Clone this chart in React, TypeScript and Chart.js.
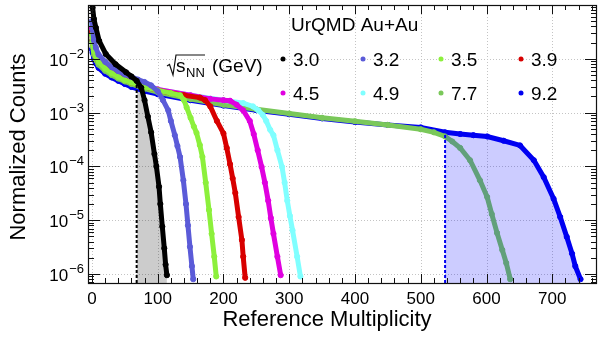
import React, { useEffect, useRef } from 'react';
import { Chart, registerables } from 'chart.js';

Chart.register(...registerables);

const FONT = '"Liberation Sans", Arimo, Arial, Helvetica, sans-serif';

// ---------------- data ----------------
const energyLabels = ['3.0', '3.2', '3.5', '3.9', '4.5', '4.9', '7.7', '9.2'];
const seriesColors = ['#000000', '#5b5bd8', '#8cf03c', '#d80000', '#e000e0', '#80ffff', '#7ac85a', '#0000f0'];

const mult30 = [0, 1, 3, 6, 11, 21, 36, 52, 60, 68, 75, 80, 85, 90, 95, 98, 102, 104, 107, 110, 112, 114];
const counts30 = [0.11, 0.09, 0.055, 0.038, 0.0215, 0.0123, 0.0079, 0.0056, 0.0047, 0.0039, 0.0029, 0.0017, 0.00085, 0.00043, 0.00017, 1.0e-4, 4.2e-5, 2.0e-5, 7.6e-6, 3.0e-6, 1.5e-6, 9.5e-7];

const mult32 = [0, 1, 3, 6, 10, 20, 30, 40, 50, 60, 70, 80, 90, 100, 108, 116, 120, 126, 130, 134, 139, 143, 146, 149, 152, 154];
const counts32 = [0.05, 0.035, 0.022, 0.016, 0.012, 0.0088, 0.007, 0.0059, 0.0051, 0.0046, 0.0041, 0.0037, 0.0032, 0.0025, 0.0017, 0.0011, 0.0007, 0.00038, 0.00024, 0.00015, 5.5e-5, 2.0e-5, 8e-6, 3.2e-6, 1.4e-6, 8e-7];

const mult35 = [0, 1, 3, 6, 10, 20, 30, 40, 50, 60, 80, 100, 120, 134, 140, 144, 150, 155, 159, 164, 168, 173, 178, 182, 186, 189];
const counts35 = [0.028, 0.02, 0.014, 0.011, 0.0088, 0.0066, 0.0054, 0.0046, 0.004, 0.0036, 0.003, 0.0026, 0.0023, 0.0021, 0.0017, 0.00125, 0.0008, 0.00055, 0.00042, 0.00025, 0.00015, 5e-5, 1.55e-5, 5.6e-6, 2.1e-6, 9e-7];

const mult39 = [0, 1, 3, 6, 10, 20, 30, 40, 50, 60, 80, 100, 120, 140, 164, 172, 180, 190, 200, 205, 210, 214, 218, 223, 228, 230, 233];
const counts39 = [0.032, 0.022, 0.015, 0.011, 0.009, 0.0068, 0.0055, 0.0047, 0.0041, 0.0036, 0.003, 0.0026, 0.0023, 0.0021, 0.0019, 0.0017, 0.0013, 0.0007, 0.00041, 0.00022, 0.00011, 6e-5, 3.2e-5, 1.15e-5, 4.3e-6, 2.1e-6, 8.5e-7];

const mult45 = [0, 1, 3, 6, 10, 20, 30, 40, 50, 60, 80, 100, 150, 180, 200, 210, 220, 230, 240, 246, 252, 258, 263, 268, 272, 276, 282, 287];
const counts45 = [0.038, 0.025, 0.016, 0.0115, 0.0092, 0.0069, 0.0056, 0.0047, 0.0041, 0.0037, 0.0031, 0.0027, 0.0021, 0.0018, 0.0017, 0.00166, 0.0014, 0.0011, 0.0007, 0.0004, 0.0002, 9.8e-5, 5e-5, 2.3e-5, 1.1e-5, 5.6e-6, 2.1e-6, 9.5e-7];

const mult49 = [0, 1, 3, 6, 10, 20, 30, 40, 50, 60, 80, 100, 150, 200, 230, 245, 253, 260, 265, 271, 276, 282, 289, 293, 297, 301, 305, 312, 317];
const counts49 = [0.042, 0.027, 0.017, 0.012, 0.0095, 0.007, 0.0057, 0.0048, 0.0042, 0.0037, 0.0031, 0.0027, 0.0021, 0.0017, 0.0015, 0.0013, 0.0011, 0.0009, 0.0007, 0.00048, 0.00038, 0.0002, 9.8e-5, 5e-5, 2.3e-5, 1.2e-5, 6.5e-6, 2.1e-6, 9e-7];

const mult77 = [0, 1, 3, 6, 10, 20, 30, 40, 50, 60, 80, 100, 150, 200, 250, 300, 350, 400, 450, 500, 520, 537, 548, 560, 575, 590, 601, 608, 616, 624, 630, 636];
const counts77 = [0.022, 0.017, 0.012, 0.0095, 0.0078, 0.006, 0.005, 0.0043, 0.0038, 0.0034, 0.0028, 0.0024, 0.00178, 0.0014, 0.00115, 0.00096, 0.0008, 0.00069, 0.00059, 0.00049, 0.00043, 0.00036, 0.00029, 0.00022, 0.00013, 5.5e-5, 2.7e-5, 1.3e-5, 5.8e-6, 2.8e-6, 1.6e-6, 8e-7];

const mult92 = [0, 1, 3, 6, 10, 20, 30, 40, 50, 60, 80, 100, 150, 200, 250, 300, 350, 400, 450, 500, 537, 560, 580, 601, 626, 651, 672, 687, 702, 712, 722, 730, 735, 743];
const counts92 = [0.015, 0.013, 0.01, 0.0082, 0.0068, 0.0053, 0.0045, 0.0039, 0.0034, 0.003, 0.0025, 0.0022, 0.0017, 0.00135, 0.00111, 0.00093, 0.00078, 0.00067, 0.00059, 0.00053, 0.00043, 0.0004, 0.00038, 0.00036, 0.0003, 0.000245, 0.00013, 6.3e-5, 2.5e-5, 1.15e-5, 4.9e-6, 2.4e-6, 1.4e-6, 8e-7];

const seriesMult = [mult30, mult32, mult35, mult39, mult45, mult49, mult77, mult92];
const seriesCounts = [counts30, counts32, counts35, counts39, counts45, counts49, counts77, counts92];

const xTickValues = [0, 100, 200, 300, 400, 500, 600, 700];
const xTickLabels = ['0', '100', '200', '300', '400', '500', '600', '700'];
const yTickValues = [1e-6, 1e-5, 1e-4, 1e-3, 1e-2];
const yTickExponents = ['\u22126', '\u22125', '\u22124', '\u22123', '\u22122'];

const cutLow = 68;   // lower shaded region start (3.0 GeV)
const cutHigh = 537; // upper shaded region start (9.2 GeV)

const X_MIN = -6;
const X_MAX = 768;
const Y_MIN = 6.8e-7;
const Y_MAX = 0.1;

const legendTitle = 'UrQMD Au+Au';
const xTitle = 'Reference Multiplicity';
const yTitle = 'Normalized Counts';

// ---------------- helpers ----------------
const toPoints = (xs: number[], ys: number[]) => xs.map((x, i) => ({ x, y: ys[i] }));

function buildDatasets() {
  const ds: any[] = [];
  const lowTop = counts30[mult30.indexOf(cutLow)];
  const highTop = counts92[mult92.indexOf(cutHigh)];
  ds.push({
    data: [{ x: cutLow, y: Y_MIN }, { x: cutLow, y: lowTop }],
    borderColor: '#000000', borderWidth: 2, borderDash: [3, 2], pointRadius: 0, fill: false, order: 0,
  });
  ds.push({
    data: [{ x: cutHigh, y: Y_MIN }, { x: cutHigh, y: highTop }],
    borderColor: '#0000f0', borderWidth: 2, borderDash: [3, 2], pointRadius: 0, fill: false, order: 0,
  });
  ds.push({
    data: toPoints(mult92, counts92).filter((p) => p.x >= cutHigh),
    borderColor: 'rgba(0,0,0,0)', borderWidth: 0, pointRadius: 0,
    backgroundColor: 'rgba(0,0,255,0.2)', fill: 'start', order: 1,
  });
  for (let i = 0; i < energyLabels.length; i++) {
    const c = seriesColors[i];
    ds.push({
      data: toPoints(seriesMult[i], seriesCounts[i]),
      borderColor: c, borderWidth: 5, backgroundColor: c,
      pointRadius: 2.6, pointBackgroundColor: c, pointBorderColor: c, pointBorderWidth: 1,
      fill: false, order: 2 + i,
    });
  }
  ds.push({
    data: toPoints(mult30, counts30).filter((p) => p.x >= cutLow),
    borderColor: 'rgba(0,0,0,0)', borderWidth: 0, pointRadius: 0,
    backgroundColor: 'rgba(0,0,0,0.2)', fill: 'start', order: 20,
  });
  return ds;
}

function line(ctx: CanvasRenderingContext2D, x1: number, y1: number, x2: number, y2: number) {
  ctx.moveTo(x1, y1);
  ctx.lineTo(x2, y2);
}

const decorPlugin = {
  id: 'decor',
  beforeDatasetsDraw(chart: any) {
    const { ctx, chartArea: a } = chart;
    const xs = chart.scales.x;
    const ys = chart.scales.y;
    ctx.save();
    ctx.strokeStyle = '#c4c4c4';
    ctx.lineWidth = 1;
    ctx.setLineDash([1, 2]);
    ctx.beginPath();
    for (const v of xTickValues) {
      const p = Math.round(xs.getPixelForValue(v)) + 0.5;
      line(ctx, p, a.top, p, a.bottom);
    }
    for (const v of yTickValues) {
      const p = Math.round(ys.getPixelForValue(v)) + 0.5;
      line(ctx, a.left, p, a.right, p);
    }
    ctx.stroke();
    ctx.restore();
  },
  afterDraw(chart: any) {
    const { ctx, chartArea: a } = chart;
    const xs = chart.scales.x;
    const ys = chart.scales.y;
    ctx.save();
    ctx.setLineDash([]);
    ctx.strokeStyle = '#111';
    ctx.lineWidth = 1.2;
    ctx.strokeRect(Math.round(a.left) + 0.5, Math.round(a.top) + 0.5, Math.round(a.right - a.left) - 1, Math.round(a.bottom - a.top));
    ctx.lineWidth = 1;
    ctx.beginPath();
    for (let v = 0; v <= X_MAX; v += 20) {
      const p = Math.round(xs.getPixelForValue(v)) + 0.5;
      const len = v % 100 === 0 ? 9 : 5;
      line(ctx, p, a.bottom, p, a.bottom - len);
      line(ctx, p, a.top, p, a.top + len);
    }
    for (let e = -7; e <= -1; e++) {
      for (let k = 1; k <= 9; k++) {
        const v = k * Math.pow(10, e);
        if (v < Y_MIN || v > Y_MAX) continue;
        const p = Math.round(ys.getPixelForValue(v)) + 0.5;
        const len = k === 1 ? 12 : 6;
        line(ctx, a.left, p, a.left + len, p);
        line(ctx, a.right, p, a.right - len, p);
      }
    }
    ctx.stroke();

    ctx.fillStyle = '#000';
    ctx.font = `17px ${FONT}`;
    ctx.textAlign = 'center';
    ctx.textBaseline = 'alphabetic';
    xTickValues.forEach((v, i) => {
      ctx.fillText(xTickLabels[i], xs.getPixelForValue(v), 304);
    });
    yTickValues.forEach((v, i) => {
      const p = ys.getPixelForValue(v);
      ctx.font = `13px ${FONT}`;
      const we = ctx.measureText(yTickExponents[i]).width;
      const right = 84;
      ctx.textAlign = 'left';
      ctx.fillText(yTickExponents[i], right - we, p - 1);
      ctx.font = `17px ${FONT}`;
      ctx.textAlign = 'right';
      ctx.fillText('10', right - we - 1, p + 7);
    });
    ctx.font = `22px ${FONT}`;
    ctx.textAlign = 'center';
    ctx.fillText(xTitle, 327, 326);
    ctx.save();
    ctx.translate(25, 147);
    ctx.rotate(-Math.PI / 2);
    ctx.fillText(yTitle, 0, 0);
    ctx.restore();

    ctx.font = `19px ${FONT}`;
    ctx.textAlign = 'left';
    ctx.fillText(legendTitle, 291, 31);
    ctx.lineWidth = 1.2;
    ctx.beginPath();
    ctx.moveTo(167, 66);
    ctx.lineTo(169.5, 64.5);
    ctx.lineTo(173, 75);
    ctx.lineTo(176, 55);
    ctx.lineTo(205, 55);
    ctx.stroke();
    ctx.fillText('s', 176, 72);
    ctx.font = `13px ${FONT}`;
    ctx.fillText('NN', 186, 77);
    ctx.font = `19px ${FONT}`;
    ctx.fillText('(GeV)', 212, 72);

    const colX = [283, 363, 441, 521];
    const rowY = [59, 93];
    energyLabels.forEach((lab, i) => {
      const cx = colX[i % 4];
      const cy = rowY[Math.floor(i / 4)];
      ctx.fillStyle = seriesColors[i];
      ctx.beginPath();
      ctx.arc(cx, cy, 2.5, 0, Math.PI * 2);
      ctx.fill();
      ctx.fillStyle = '#000';
      ctx.fillText(lab, cx + 10, cy + 7);
    });
    ctx.restore();
  },
};

export default function App() {
  const ref = useRef<HTMLCanvasElement | null>(null);
  useEffect(() => {
    if (!ref.current) return;
    const chart = new Chart(ref.current, {
      type: 'line',
      data: { datasets: buildDatasets() },
      options: {
        responsive: false,
        animation: false,
        devicePixelRatio: 1,
        events: [],
        layout: { padding: { top: 4, right: 6, left: 0, bottom: 0 } },
        plugins: { legend: { display: false }, tooltip: { enabled: false } },
        elements: { line: { tension: 0 } },
        datasets: { line: { clip: 0 } as any },
        scales: {
          x: {
            type: 'linear', min: X_MIN, max: X_MAX,
            ticks: { display: false }, grid: { display: false }, border: { display: false },
            afterFit: (s: any) => { s.height = 57; },
          },
          y: {
            type: 'logarithmic', min: Y_MIN, max: Y_MAX,
            ticks: { display: false }, grid: { display: false }, border: { display: false },
            afterFit: (s: any) => { s.width = 88; },
          },
        },
      } as any,
      plugins: [decorPlugin],
    });
    return () => chart.destroy();
  }, []);
  return (
    <canvas
      ref={ref}
      width={603}
      height={340}
      style={{ position: 'fixed', left: 0, top: 0, width: 603, height: 340 }}
    />
  );
}
